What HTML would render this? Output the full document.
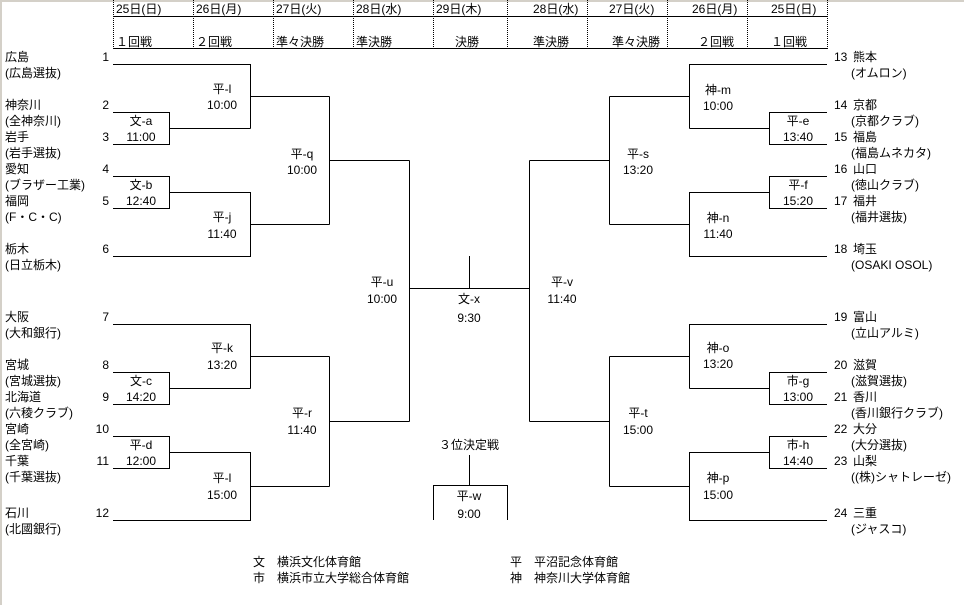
<!DOCTYPE html>
<html><head><meta charset="utf-8"><style>
html,body{margin:0;padding:0;background:#fff;}
body{width:964px;height:605px;overflow:hidden;position:relative;}
svg{position:absolute;left:0;top:0;}
text{font-family:"Liberation Sans","Noto Sans CJK JP",sans-serif;font-size:12px;fill:#000;dominant-baseline:central;}
</style></head><body>
<svg width="964" height="605" viewBox="0 0 964 605">
<rect x="0" y="0" width="964" height="2" fill="#d4d0c8"/>
<rect x="0" y="0" width="2" height="605" fill="#d4d0c8"/>
<g stroke="#000" stroke-width="1" fill="none" stroke-dasharray="1,1">
<line x1="113.5" y1="0" x2="113.5" y2="48"/><line x1="193.5" y1="0" x2="193.5" y2="48"/>
<line x1="273.5" y1="0" x2="273.5" y2="48"/><line x1="353.5" y1="0" x2="353.5" y2="48"/>
<line x1="433.5" y1="0" x2="433.5" y2="48"/><line x1="507.5" y1="0" x2="507.5" y2="48"/>
<line x1="587.5" y1="0" x2="587.5" y2="48"/><line x1="667.5" y1="0" x2="667.5" y2="48"/>
<line x1="747.5" y1="0" x2="747.5" y2="48"/><line x1="827.5" y1="0" x2="827.5" y2="48"/>
</g>
<g stroke="#000" stroke-width="1" fill="none">
<line x1="113" y1="16.5" x2="828" y2="16.5"/><line x1="113" y1="48.5" x2="828" y2="48.5"/>
<!-- left upper -->
<polyline points="113,64.5 250.5,64.5 250.5,128.5"/>
<polyline points="113,112.5 169.5,112.5 169.5,144.5 113,144.5"/>
<polyline points="169.5,128.5 250.5,128.5"/>
<polyline points="250.5,96.5 329.5,96.5"/>
<polyline points="113,176.5 169.5,176.5 169.5,208.5 113,208.5"/>
<polyline points="169.5,192.5 250.5,192.5 250.5,256.5 113,256.5"/>
<polyline points="250.5,224.5 329.5,224.5"/>
<polyline points="329.5,96.5 329.5,224.5"/>
<polyline points="329.5,160.5 409.5,160.5"/>
<!-- left lower -->
<polyline points="113,324.5 250.5,324.5 250.5,388.5"/>
<polyline points="113,372.5 169.5,372.5 169.5,404.5 113,404.5"/>
<polyline points="169.5,388.5 250.5,388.5"/>
<polyline points="250.5,356.5 329.5,356.5"/>
<polyline points="113,436.5 169.5,436.5 169.5,468.5 113,468.5"/>
<polyline points="169.5,452.5 250.5,452.5 250.5,520.5 113,520.5"/>
<polyline points="250.5,486.5 329.5,486.5"/>
<polyline points="329.5,356.5 329.5,486.5"/>
<polyline points="329.5,421.5 409.5,421.5"/>
<polyline points="409.5,160.5 409.5,421.5"/>
<polyline points="409.5,288.5 529.5,288.5"/>
<line x1="469.5" y1="256" x2="469.5" y2="288"/>
<!-- right upper -->
<polyline points="827,64.5 689.5,64.5 689.5,128.5"/>
<polyline points="827,112.5 769.5,112.5 769.5,144.5 827,144.5"/>
<polyline points="769.5,128.5 689.5,128.5"/>
<polyline points="689.5,96.5 609.5,96.5"/>
<polyline points="827,176.5 769.5,176.5 769.5,208.5 827,208.5"/>
<polyline points="769.5,192.5 689.5,192.5 689.5,256.5 827,256.5"/>
<polyline points="689.5,224.5 609.5,224.5"/>
<polyline points="609.5,96.5 609.5,224.5"/>
<polyline points="609.5,160.5 529.5,160.5"/>
<!-- right lower -->
<polyline points="827,324.5 689.5,324.5 689.5,388.5"/>
<polyline points="827,372.5 769.5,372.5 769.5,404.5 827,404.5"/>
<polyline points="769.5,388.5 689.5,388.5"/>
<polyline points="689.5,356.5 609.5,356.5"/>
<polyline points="827,436.5 769.5,436.5 769.5,468.5 827,468.5"/>
<polyline points="769.5,452.5 689.5,452.5 689.5,520.5 827,520.5"/>
<polyline points="689.5,486.5 609.5,486.5"/>
<polyline points="609.5,356.5 609.5,486.5"/>
<polyline points="609.5,421.5 529.5,421.5"/>
<polyline points="529.5,160.5 529.5,421.5"/>
<!-- third place -->
<line x1="469.5" y1="455" x2="469.5" y2="485"/>
<polyline points="433.5,520 433.5,485.5 507.5,485.5 507.5,520"/>
</g>
<!-- header -->
<text x="116" y="9">25日(日)</text><text x="196" y="9">26日(月)</text>
<text x="276" y="9">27日(火)</text><text x="356" y="9">28日(水)</text>
<text x="436" y="9">29日(木)</text><text x="533" y="9">28日(水)</text>
<text x="609" y="9">27日(火)</text><text x="692" y="9">26日(月)</text>
<text x="771" y="9">25日(日)</text>
<text x="116" y="42">１回戦</text><text x="196" y="42">２回戦</text>
<text x="276" y="42">準々決勝</text><text x="356" y="42">準決勝</text>
<text x="455" y="42">決勝</text><text x="533" y="42">準決勝</text>
<text x="612" y="42">準々決勝</text><text x="698" y="42">２回戦</text>
<text x="771" y="42">１回戦</text>
<!-- left teams -->
<g>
<text x="5" y="57">広島</text><text x="5" y="73">(広島選抜)</text>
<text x="5" y="105">神奈川</text><text x="5" y="121">(全神奈川)</text>
<text x="5" y="137">岩手</text><text x="5" y="153">(岩手選抜)</text>
<text x="5" y="169">愛知</text><text x="5" y="185">(ブラザー工業)</text>
<text x="5" y="201">福岡</text><text x="5" y="217">(F・C・C)</text>
<text x="5" y="249">栃木</text><text x="5" y="265">(日立栃木)</text>
<text x="5" y="317">大阪</text><text x="5" y="333">(大和銀行)</text>
<text x="5" y="365">宮城</text><text x="5" y="381">(宮城選抜)</text>
<text x="5" y="397">北海道</text><text x="5" y="413">(六稜クラブ)</text>
<text x="5" y="429">宮崎</text><text x="5" y="445">(全宮崎)</text>
<text x="5" y="461">千葉</text><text x="5" y="477">(千葉選抜)</text>
<text x="5" y="513">石川</text><text x="5" y="529">(北國銀行)</text>
</g>
<g text-anchor="end">
<text x="109" y="57">1</text><text x="109" y="105">2</text><text x="109" y="137">3</text>
<text x="109" y="169">4</text><text x="109" y="201">5</text><text x="109" y="249">6</text>
<text x="109" y="317">7</text><text x="109" y="365">8</text><text x="109" y="397">9</text>
<text x="109" y="429">10</text><text x="109" y="461">11</text><text x="109" y="513">12</text>
</g>
<!-- right teams -->
<g>
<text x="834" y="57">13</text><text x="834" y="105">14</text><text x="834" y="137">15</text>
<text x="834" y="169">16</text><text x="834" y="201">17</text><text x="834" y="249">18</text>
<text x="834" y="317">19</text><text x="834" y="365">20</text><text x="834" y="397">21</text>
<text x="834" y="429">22</text><text x="834" y="461">23</text><text x="834" y="513">24</text>
<text x="853" y="57">熊本</text><text x="851" y="73">(オムロン)</text>
<text x="853" y="105">京都</text><text x="851" y="121">(京都クラブ)</text>
<text x="853" y="137">福島</text><text x="851" y="153">(福島ムネカタ)</text>
<text x="853" y="169">山口</text><text x="851" y="185">(徳山クラブ)</text>
<text x="853" y="201">福井</text><text x="851" y="217">(福井選抜)</text>
<text x="853" y="249">埼玉</text><text x="851" y="265">(OSAKI OSOL)</text>
<text x="853" y="317">富山</text><text x="851" y="333">(立山アルミ)</text>
<text x="853" y="365">滋賀</text><text x="851" y="381">(滋賀選抜)</text>
<text x="853" y="397">香川</text><text x="851" y="413">(香川銀行クラブ)</text>
<text x="853" y="429">大分</text><text x="851" y="445">(大分選抜)</text>
<text x="853" y="461">山梨</text><text x="851" y="477">((株)シャトレーゼ)</text>
<text x="853" y="513">三重</text><text x="851" y="529">(ジャスコ)</text>
</g>
<!-- match labels -->
<g text-anchor="middle">
<text x="141" y="121">文-a</text><text x="141" y="137">11:00</text>
<text x="141" y="185">文-b</text><text x="141" y="201">12:40</text>
<text x="141" y="381">文-c</text><text x="141" y="397">14:20</text>
<text x="141" y="445">平-d</text><text x="141" y="461">12:00</text>
<text x="222" y="89">平-l</text><text x="222" y="105">10:00</text>
<text x="222" y="217">平-j</text><text x="222" y="234">11:40</text>
<text x="222" y="348">平-k</text><text x="222" y="365">13:20</text>
<text x="222" y="478">平-l</text><text x="222" y="495">15:00</text>
<text x="302" y="154">平-q</text><text x="302" y="170">10:00</text>
<text x="302" y="413">平-r</text><text x="302" y="430">11:40</text>
<text x="382" y="282">平-u</text><text x="382" y="299">10:00</text>
<text x="469" y="299">文-x</text><text x="469" y="318">9:30</text>
<text x="469" y="445">３位決定戦</text>
<text x="469" y="496">平-w</text><text x="469" y="514">9:00</text>
<text x="562" y="282">平-v</text><text x="562" y="299">11:40</text>
<text x="638" y="154">平-s</text><text x="638" y="170">13:20</text>
<text x="638" y="413">平-t</text><text x="638" y="430">15:00</text>
<text x="718" y="90">神-m</text><text x="718" y="106">10:00</text>
<text x="718" y="218">神-n</text><text x="718" y="234">11:40</text>
<text x="718" y="348">神-o</text><text x="718" y="364">13:20</text>
<text x="718" y="478">神-p</text><text x="718" y="495">15:00</text>
<text x="798" y="121">平-e</text><text x="798" y="137">13:40</text>
<text x="798" y="185">平-f</text><text x="798" y="201">15:20</text>
<text x="798" y="381">市-g</text><text x="798" y="397">13:00</text>
<text x="798" y="445">市-h</text><text x="798" y="461">14:40</text>
</g>
<!-- legend -->
<text x="253" y="562">文</text><text x="277" y="562">横浜文化体育館</text>
<text x="253" y="578">市</text><text x="277" y="578">横浜市立大学総合体育館</text>
<text x="510" y="562">平</text><text x="534" y="562">平沼記念体育館</text>
<text x="510" y="578">神</text><text x="534" y="578">神奈川大学体育館</text>
</svg>
</body></html>
